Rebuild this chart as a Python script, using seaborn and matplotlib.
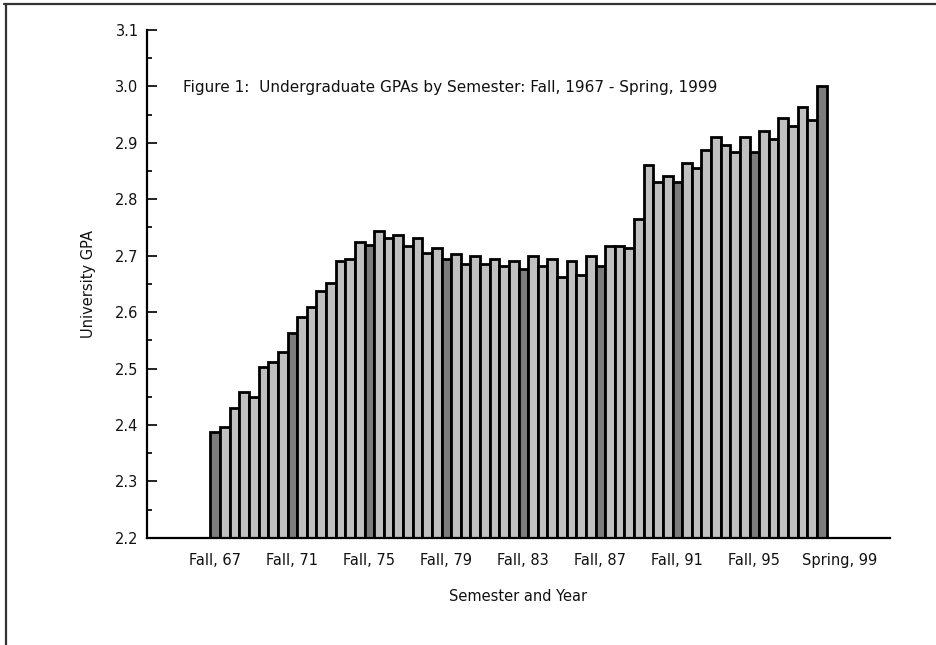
import numpy as np
import pandas as pd
import matplotlib
matplotlib.use("Agg")
import matplotlib.pyplot as plt
import matplotlib.transforms as mtransforms
import seaborn as sns
from matplotlib.lines import Line2D

# Semesters: Fall 67, Spring 68, ..., Fall 98, Spring 99
semesters = []
for yr in range(67, 99):
    semesters.append(f"Fall, {yr}")
    semesters.append(f"Spring, {yr + 1}")

# GPA values
gpa = [
    2.388, 2.397, 2.431, 2.459, 2.449, 2.502, 2.511, 2.530,
    2.563, 2.591, 2.610, 2.638, 2.652, 2.690, 2.694, 2.724,
    2.719, 2.743, 2.731, 2.737, 2.718, 2.732, 2.705, 2.714,
    2.695, 2.703, 2.685, 2.699, 2.685, 2.695, 2.681, 2.690,
    2.676, 2.699, 2.681, 2.695, 2.662, 2.690, 2.666, 2.699,
    2.681, 2.718, 2.718, 2.713, 2.765, 2.860, 2.831, 2.841,
    2.831, 2.864, 2.855, 2.888, 2.911, 2.897, 2.883, 2.911,
    2.883, 2.921, 2.907, 2.944, 2.930, 2.963, 2.940, 3.001,
]

tick_labels = ["Fall, 67", "Fall, 71", "Fall, 75", "Fall, 79", "Fall, 83",
               "Fall, 87", "Fall, 91", "Fall, 95", "Spring, 99"]

df = pd.DataFrame({"Semester": semesters, "GPA": gpa})

# labelled semesters get the darker fill
dark = set(tick_labels)
palette = {s: ("#7c7c7c" if s in dark else "#c0c0c0") for s in semesters}

sns.set_style("white")
plt.rcParams["font.family"] = ["DejaVu Sans"]
plt.rcParams["text.color"] = "#111111"
plt.rcParams["axes.labelcolor"] = "#111111"
plt.rcParams["xtick.color"] = "#111111"
plt.rcParams["ytick.color"] = "#111111"
FS = 10.5

fig = plt.figure(figsize=(9.36, 6.45), dpi=100)
ax = fig.add_axes([0.157, 0.166, 0.794, 0.7876])

sns.barplot(data=df, x="Semester", y="GPA", hue="Semester", palette=palette,
            legend=False, width=1.0, edgecolor="black", linewidth=2.0,
            saturation=1, ax=ax)

ax.set_ylim(2.2, 3.1)
ax.set_xlim(-7.1, 70.1)
yt = np.arange(2.2, 3.11, 0.1)
ax.set_yticks(yt)
ax.set_yticklabels([f"{v:.1f}" for v in yt], fontsize=FS)
ax.set_yticks(np.arange(2.25, 3.1, 0.1), minor=True)
ax.tick_params(axis="y", which="major", direction="in", length=7, width=1.3,
               left=True, pad=6)
ax.tick_params(axis="y", which="minor", direction="in", length=3.5, width=1.3,
               left=True)

pos = [semesters.index(t) for t in tick_labels]
ax.set_xticks(pos)
ax.set_xticklabels(tick_labels, fontsize=FS)
ax.tick_params(axis="x", length=0, pad=11)
# nudge the last label right, as in the original
last = ax.get_xticklabels()[-1]
last.set_transform(last.get_transform() +
                   mtransforms.ScaledTranslation(18 / 100, 0, fig.dpi_scale_trans))

for side in ["top", "right"]:
    ax.spines[side].set_visible(False)
for side in ["left", "bottom"]:
    ax.spines[side].set_color("black")
    ax.spines[side].set_linewidth(1.6)

ax.set_xlabel("Semester and Year", fontsize=FS, labelpad=15)
ax.set_ylabel("University GPA", fontsize=FS, labelpad=14)

ax.text(0.048, 0.886, "Figure 1:  Undergraduate GPAs by Semester: Fall, 1967 - Spring, 1999",
        transform=ax.transAxes, fontsize=11, ha="left", va="center")

# frame lines along the top and left of the page
fig.add_artist(Line2D([0.004, 1.0], [0.994, 0.994], transform=fig.transFigure,
                      color="#333333", linewidth=1.6))
fig.add_artist(Line2D([0.0065, 0.0065], [0.0, 0.994], transform=fig.transFigure,
                      color="#333333", linewidth=1.6))

fig.savefig("out.png", dpi=100)
